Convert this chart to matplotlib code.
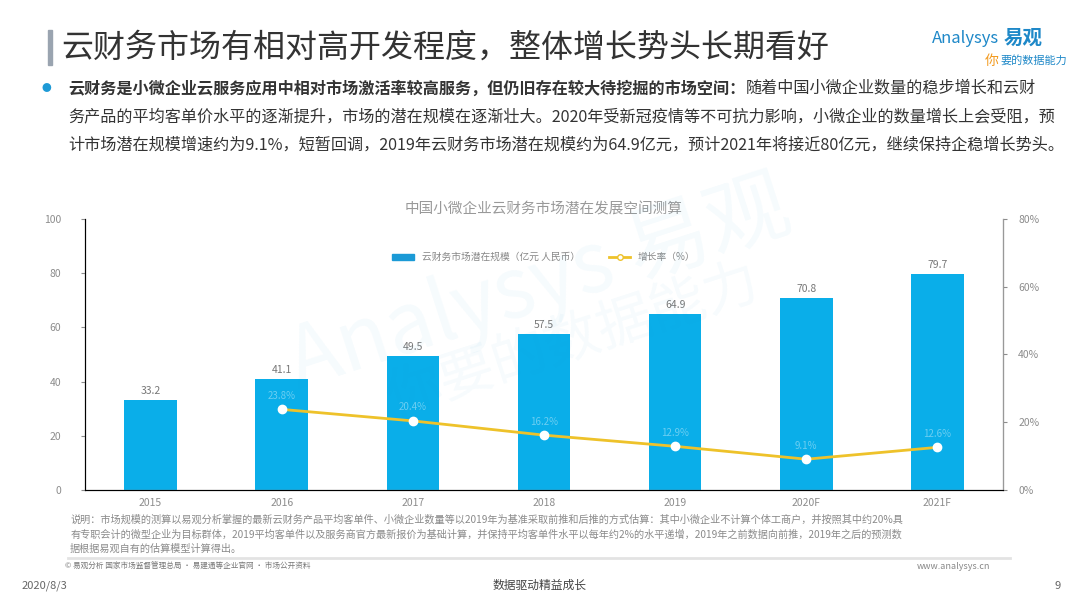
import numpy as np
import matplotlib
matplotlib.use("Agg")
import matplotlib.pyplot as plt
from matplotlib.lines import Line2D
from matplotlib.patches import Patch

plt.rcParams['font.family'] = ['Noto Sans CJK SC', 'DejaVu Sans']

years = ["2015", "2016", "2017", "2018", "2019", "2020F", "2021F"]
market_size = [33.2, 41.1, 49.5, 57.5, 64.9, 70.8, 79.7]
growth_years = ["2016", "2017", "2018", "2019", "2020F", "2021F"]
growth_rate = [23.8, 20.4, 16.2, 12.9, 9.1, 12.6]

bar_color = "#0AAEE9"
line_color = "#EEC22A"
grey = "#8C8C8C"

fig = plt.figure(figsize=(10.8, 6.08), dpi=100)

# header
fig.patches.append(plt.Rectangle((0.044, 0.893), 0.004, 0.058, transform=fig.transFigure,
                                 color="#9AA4B0", zorder=3))
fig.text(0.057, 0.921, "云财务市场有相对高开发程度，整体增长势头长期看好", fontsize=23,
         color="#333333", va="center", ha="left", fontweight="medium")
fig.text(0.925, 0.937, "Analysys", fontsize=12, color="#1E88C8", style="italic",
         va="center", ha="right")
fig.text(0.929, 0.937, "易观", fontsize=14, color="#1E88C8", fontweight="bold",
         va="center", ha="left")
fig.text(0.912, 0.9, "你", fontsize=10, color="#F39A1E", style="italic", va="center")
fig.text(0.926, 0.9, "要的数据能力", fontsize=8, color="#1E88C8", style="italic", va="center")

# bullet text
fig.text(0.043, 0.855, "●", fontsize=7, color="#1E9AD6", va="center", ha="center")
bold_part = "云财务是小微企业云服务应用中相对市场激活率较高服务，但仍旧存在较大待挖掘的市场空间："
t1 = fig.text(0.063, 0.855, bold_part, fontsize=11.6, fontweight="bold", color="#333333",
              va="center", ha="left")
fig.canvas.draw()
bb = t1.get_window_extent()
fig.text(bb.x1 / fig.bbox.width, 0.855, "随着中国小微企业数量的稳步增长和云财",
         fontsize=11.6, color="#333333", va="center", ha="left")
fig.text(0.063, 0.808, "务产品的平均客单价水平的逐渐提升，市场的潜在规模在逐渐壮大。2020年受新冠疫情等不可抗力影响，小微企业的数量增长上会受阻，预",
         fontsize=11.6, color="#333333", va="center", ha="left")
fig.text(0.063, 0.761, "计市场潜在规模增速约为9.1%，短暂回调，2019年云财务市场潜在规模约为64.9亿元，预计2021年将接近80亿元，继续保持企稳增长势头。",
         fontsize=11.6, color="#333333", va="center", ha="left")

# chart
ax = fig.add_axes([0.0787, 0.194, 0.85, 0.446])
x = np.arange(len(years))
bars = ax.bar(x, market_size, width=0.4, color=bar_color, zorder=2)
for xi, v in zip(x, market_size):
    ax.text(xi, v + 1.5, f"{v:.1f}", ha="center", va="bottom", fontsize=7.5, color="#777777")
ax.set_xlim(-0.5, len(years) - 0.5)
ax.set_ylim(0, 100)
ax.set_yticks(np.arange(0, 101, 20))
ax.set_xticks(x)
ax.set_xticklabels(years)
ax.tick_params(axis="x", length=0, colors=grey, labelsize=7.5, pad=6)
ax.tick_params(axis="y", length=3, colors=grey, labelsize=7.5, pad=14, direction="out")
ax.spines["top"].set_visible(False)
for s in ["left", "bottom", "right"]:
    ax.spines[s].set_color("#999999")
    ax.spines[s].set_linewidth(0.9)

ax2 = ax.twinx()
gx = [years.index(y) for y in growth_years]
ax2.plot(gx, growth_rate, color=line_color, lw=2, marker="o", markersize=6,
         markerfacecolor="white", markeredgecolor="white", zorder=3)
for xi, v in zip(gx, growth_rate):
    ax2.text(xi, v + 2.5, f"{v:.1f}%", ha="center", va="bottom", fontsize=7,
             color="white", alpha=0.4)
ax2.set_ylim(0, 80)
ax2.set_yticks(np.arange(0, 81, 20))
ax2.set_yticklabels([f"{t}%" for t in range(0, 81, 20)])
ax2.tick_params(axis="y", length=3, colors=grey, labelsize=7.5, pad=8)
ax2.spines["top"].set_visible(False)
ax2.spines["right"].set_color("#999999")

ax.set_title("中国小微企业云财务市场潜在发展空间测算", fontsize=10.5, color="#999999", pad=4)
handles = [Patch(color="#1B9AD6"),
           Line2D([0], [0], color=line_color, lw=2, marker="o", markersize=4,
                  markerfacecolor="white", markeredgecolor=line_color)]
ax.legend(handles, ["云财务市场潜在规模（亿元 人民币）", "增长率（%）"], loc="upper center",
          bbox_to_anchor=(0.5, 0.91), ncol=2, frameon=False, fontsize=7,
          labelcolor="#888888", handlelength=2.2, handleheight=0.6, columnspacing=3)

# watermark
fig.text(0.5, 0.53, "Analysys 易观", fontsize=60, color="#1E9AD6", alpha=0.045,
         rotation=18, ha="center", va="center", style="italic")
fig.text(0.53, 0.44, "你要的数据能力", fontsize=40, color="#1E9AD6", alpha=0.04,
         rotation=18, ha="center", va="center", style="italic")

# notes
note_lines = [
    "说明：市场规模的测算以易观分析掌握的最新云财务产品平均客单件、小微企业数量等以2019年为基准采取前推和后推的方式估算：其中小微企业不计算个体工商户，并按照其中约20%具",
    "有专职会计的微型企业为目标群体，2019平均客单件以及服务商官方最新报价为基础计算，并保持平均客单件水平以每年约2%的水平递增，2019年之前数据向前推，2019年之后的预测数",
    "据根据易观自有的估算模型计算得出。",
]
for i, line in enumerate(note_lines):
    fig.text(0.065, 0.145 - i * 0.024, line, fontsize=7.3, color="#8A8A8A", va="center", ha="left")
fig.add_artist(Line2D([0.063, 0.935], [0.083, 0.083], transform=fig.transFigure,
                      color="#E3E3E3", lw=2))
fig.text(0.06, 0.068, "© 易观分析 国家市场监督管理总局 · 易建通等企业官网 · 市场公开资料", fontsize=5.5,
         color="#777777", va="center", ha="left")
fig.text(0.917, 0.068, "www.analysys.cn", fontsize=6.5, color="#888888", va="center", ha="right")
fig.text(0.02, 0.037, "2020/8/3", fontsize=8, color="#666666", va="center", ha="left")
fig.text(0.5, 0.037, "数据驱动精益成长", fontsize=8.5, color="#444444", va="center", ha="center")
fig.text(0.982, 0.037, "9", fontsize=8, color="#666666", va="center", ha="right")

fig.savefig("out.png", dpi=100)
